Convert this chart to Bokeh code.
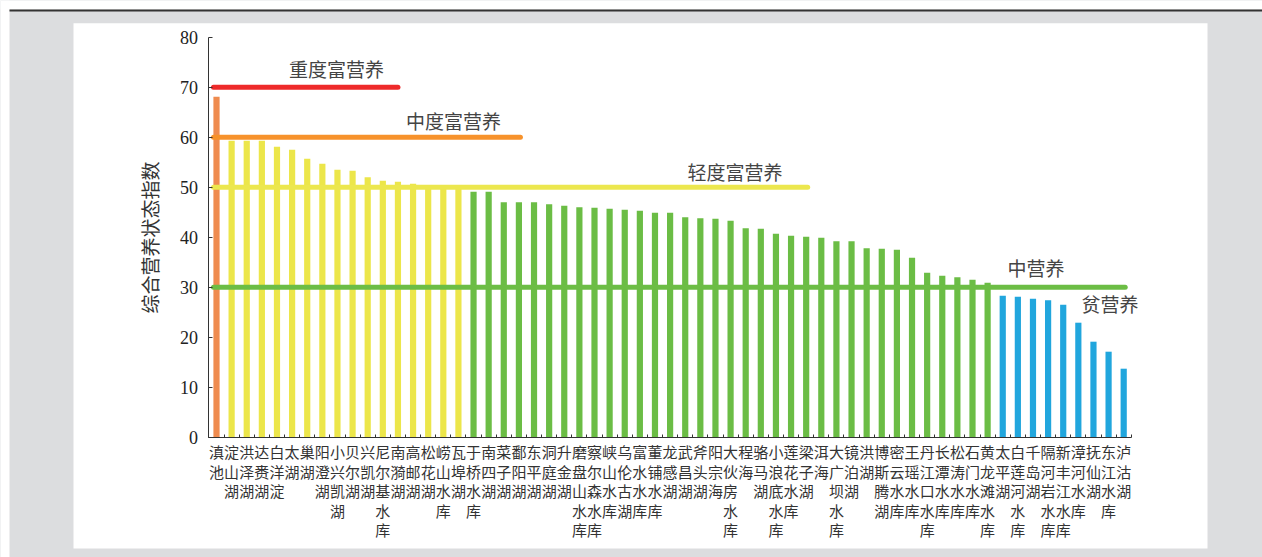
from bokeh.plotting import figure
from bokeh.models import (Range1d, LinearAxis, FixedTicker, BoxAnnotation)
from bokeh.core.properties import value
from bokeh.embed import file_html
from bokeh.resources import INLINE

# ---------------- data ----------------
names = ["滇池", "淀山湖", "洪泽湖", "达赉湖", "白洋淀", "太湖", "巢湖", "阳澄湖", "小兴凯湖", "贝尔湖",
         "兴凯湖", "尼尔基水库", "南漪湖", "高邮湖", "松花湖", "崂山水库", "瓦埠湖", "于桥水库", "南四湖", "菜子湖",
         "鄱阳湖", "东平湖", "洞庭湖", "升金湖", "磨盘山水库", "察尔森水库", "峡山水库", "乌伦古湖", "富水水库", "董铺水库",
         "龙感湖", "武昌湖", "斧头湖", "阳宗海", "大伙房水库", "程海", "骆马湖", "小浪底水库", "莲花水库", "梁子湖",
         "洱海", "大广坝水库", "镜泊湖", "洪湖", "博斯腾湖", "密云水库", "王瑶水库", "丹江口水库", "长潭水库", "松涛水库",
         "石门水库", "黄龙滩水库", "太平湖", "白莲河水库", "千岛湖", "隔河岩水库", "新丰江水库", "漳河水库", "抚仙湖", "东江水库",
         "泸沽湖"]
values = [68.1, 59.3, 59.3, 59.3, 58.1, 57.5, 55.7, 54.7, 53.5, 53.3,
          52.0, 51.3, 51.1, 50.7, 50.4, 50.3, 50.2, 49.1, 49.1, 47.0,
          47.0, 47.0, 46.6, 46.3, 46.0, 45.9, 45.7, 45.5, 45.3, 44.9,
          44.9, 44.0, 43.8, 43.7, 43.3, 41.8, 41.7, 40.7, 40.3, 40.1,
          39.9, 39.2, 39.2, 37.8, 37.7, 37.5, 35.9, 32.9, 32.3, 32.0,
          31.5, 30.9, 28.3, 28.1, 27.7, 27.4, 26.5, 22.9, 19.1, 17.1,
          13.7]

level_names = ["重度富营养", "中度富营养", "轻度富营养", "中营养", "贫营养"]
level_values = [70, 60, 50, 30]
level_line_colors = ["#ee2a2a", "#f7922b", "#ece74e", "#6cbd45"]
level_line_start = [0.8, 0.8, 0.8, 0.8]
level_line_end = [13.0, 21.1, 40.1, 61.1]
level_label_x = [8.94, 16.67, 35.3, 55.2, 60.1]
level_label_y = [73.7, 63.3, 53.1, 33.9, 26.7]

bar_colors_by_class = ["#ef8b4f", "#ece64a", "#6bbd45", "#21a6dd"]  # 60-70, 50-60, 30-50, <30
y_ticks = [0, 10, 20, 30, 40, 50, 60, 70, 80]

# ---------------- figure ----------------
x = list(range(1, len(values) + 1))

def bar_color(v):
    if v >= 60:
        return bar_colors_by_class[0]
    if v >= 50:
        return bar_colors_by_class[1]
    if v >= 30:
        return bar_colors_by_class[2]
    return bar_colors_by_class[3]

colors = [bar_color(v) for v in values]

W, H = 1262, 557
# frame covers the whole canvas; axes are pinned inside it
p = figure(width=W, height=H, x_range=Range1d(-13.286, 70.18), y_range=Range1d(-24.06, 87.34),
           output_backend="svg", toolbar_location=None,
           x_axis_type=None, y_axis_type=None)
p.min_border_left = 0
p.min_border_right = 0
p.min_border_top = 0
p.min_border_bottom = 0
p.outline_line_color = None
p.border_fill_color = "#dcdddf"
p.background_fill_color = "#dcdddf"

# white panel and top rule
def canvas_box(l, r, t, b, color):
    return BoxAnnotation(left=l, right=r, top=t, bottom=b,
                         left_units="canvas", right_units="canvas",
                         top_units="canvas", bottom_units="canvas",
                         fill_color=color, fill_alpha=1.0, line_color=None, level="image")

p.add_layout(canvas_box(0, W, 0, 9, "white"))
p.add_layout(canvas_box(0, 9, 0, H, "white"))
p.add_layout(canvas_box(9, W, 9, 11, "#333333"))
p.add_layout(canvas_box(73, 1207, 22.7, 548, "white"))

# bars
p.vbar(x=x, top=values, width=0.41, bottom=0, fill_color=colors, line_color=None)

# level lines
p.segment(x0=level_line_start, y0=level_values, x1=level_line_end, y1=level_values,
          line_color=level_line_colors, line_width=5, line_cap="round")

# level labels
p.text(x=level_label_x, y=level_label_y, text=level_names,
       text_font=value("Noto Sans CJK SC"), text_font_size="19px",
       text_color="#444444", text_align="center", text_baseline="middle")

# y axis
yax = LinearAxis(ticker=FixedTicker(ticks=y_ticks, minor_ticks=[]), bounds=(0, 80), fixed_location=0.5)
yax.axis_line_color = "#333333"
yax.axis_line_width = 1
yax.major_tick_in = 4
yax.major_tick_out = 0
yax.major_tick_line_color = "#333333"
yax.minor_tick_line_color = None
yax.major_label_text_font = "Liberation Serif"
yax.major_label_text_font_size = "18px"
yax.major_label_text_color = "#222222"
yax.major_label_standoff = 11
yax.axis_label = "综合营养状态指数"
yax.axis_label_text_font = "Noto Sans CJK SC"
yax.axis_label_text_font_size = "19px"
yax.axis_label_text_font_style = "normal"
yax.axis_label_text_color = "#333333"
yax.axis_label_standoff = 14
p.add_layout(yax, "left")

# x axis: labels at bar centers, minor ticks at bar boundaries
boundaries = [i + 0.5 for i in range(0, len(values) + 1)]
xax = LinearAxis(ticker=FixedTicker(ticks=x, minor_ticks=boundaries),
                 bounds=(0.5, len(values) + 0.5), fixed_location=0)
xax.axis_line_color = "#333333"
xax.axis_line_width = 1
xax.major_tick_in = 0
xax.major_tick_out = 0
xax.minor_tick_in = 3
xax.minor_tick_out = 0
xax.minor_tick_line_color = "#333333"
xax.major_label_overrides = {i + 1: "\n".join(n) for i, n in enumerate(names)}
xax.major_label_text_font = "Noto Sans CJK SC"
xax.major_label_text_font_size = "15px"
xax.major_label_text_color = "#333333"
xax.major_label_text_line_height = 0.93
xax.major_label_standoff = 4
p.add_layout(xax, "below")

open("out.html", "w").write(file_html(p, INLINE))
